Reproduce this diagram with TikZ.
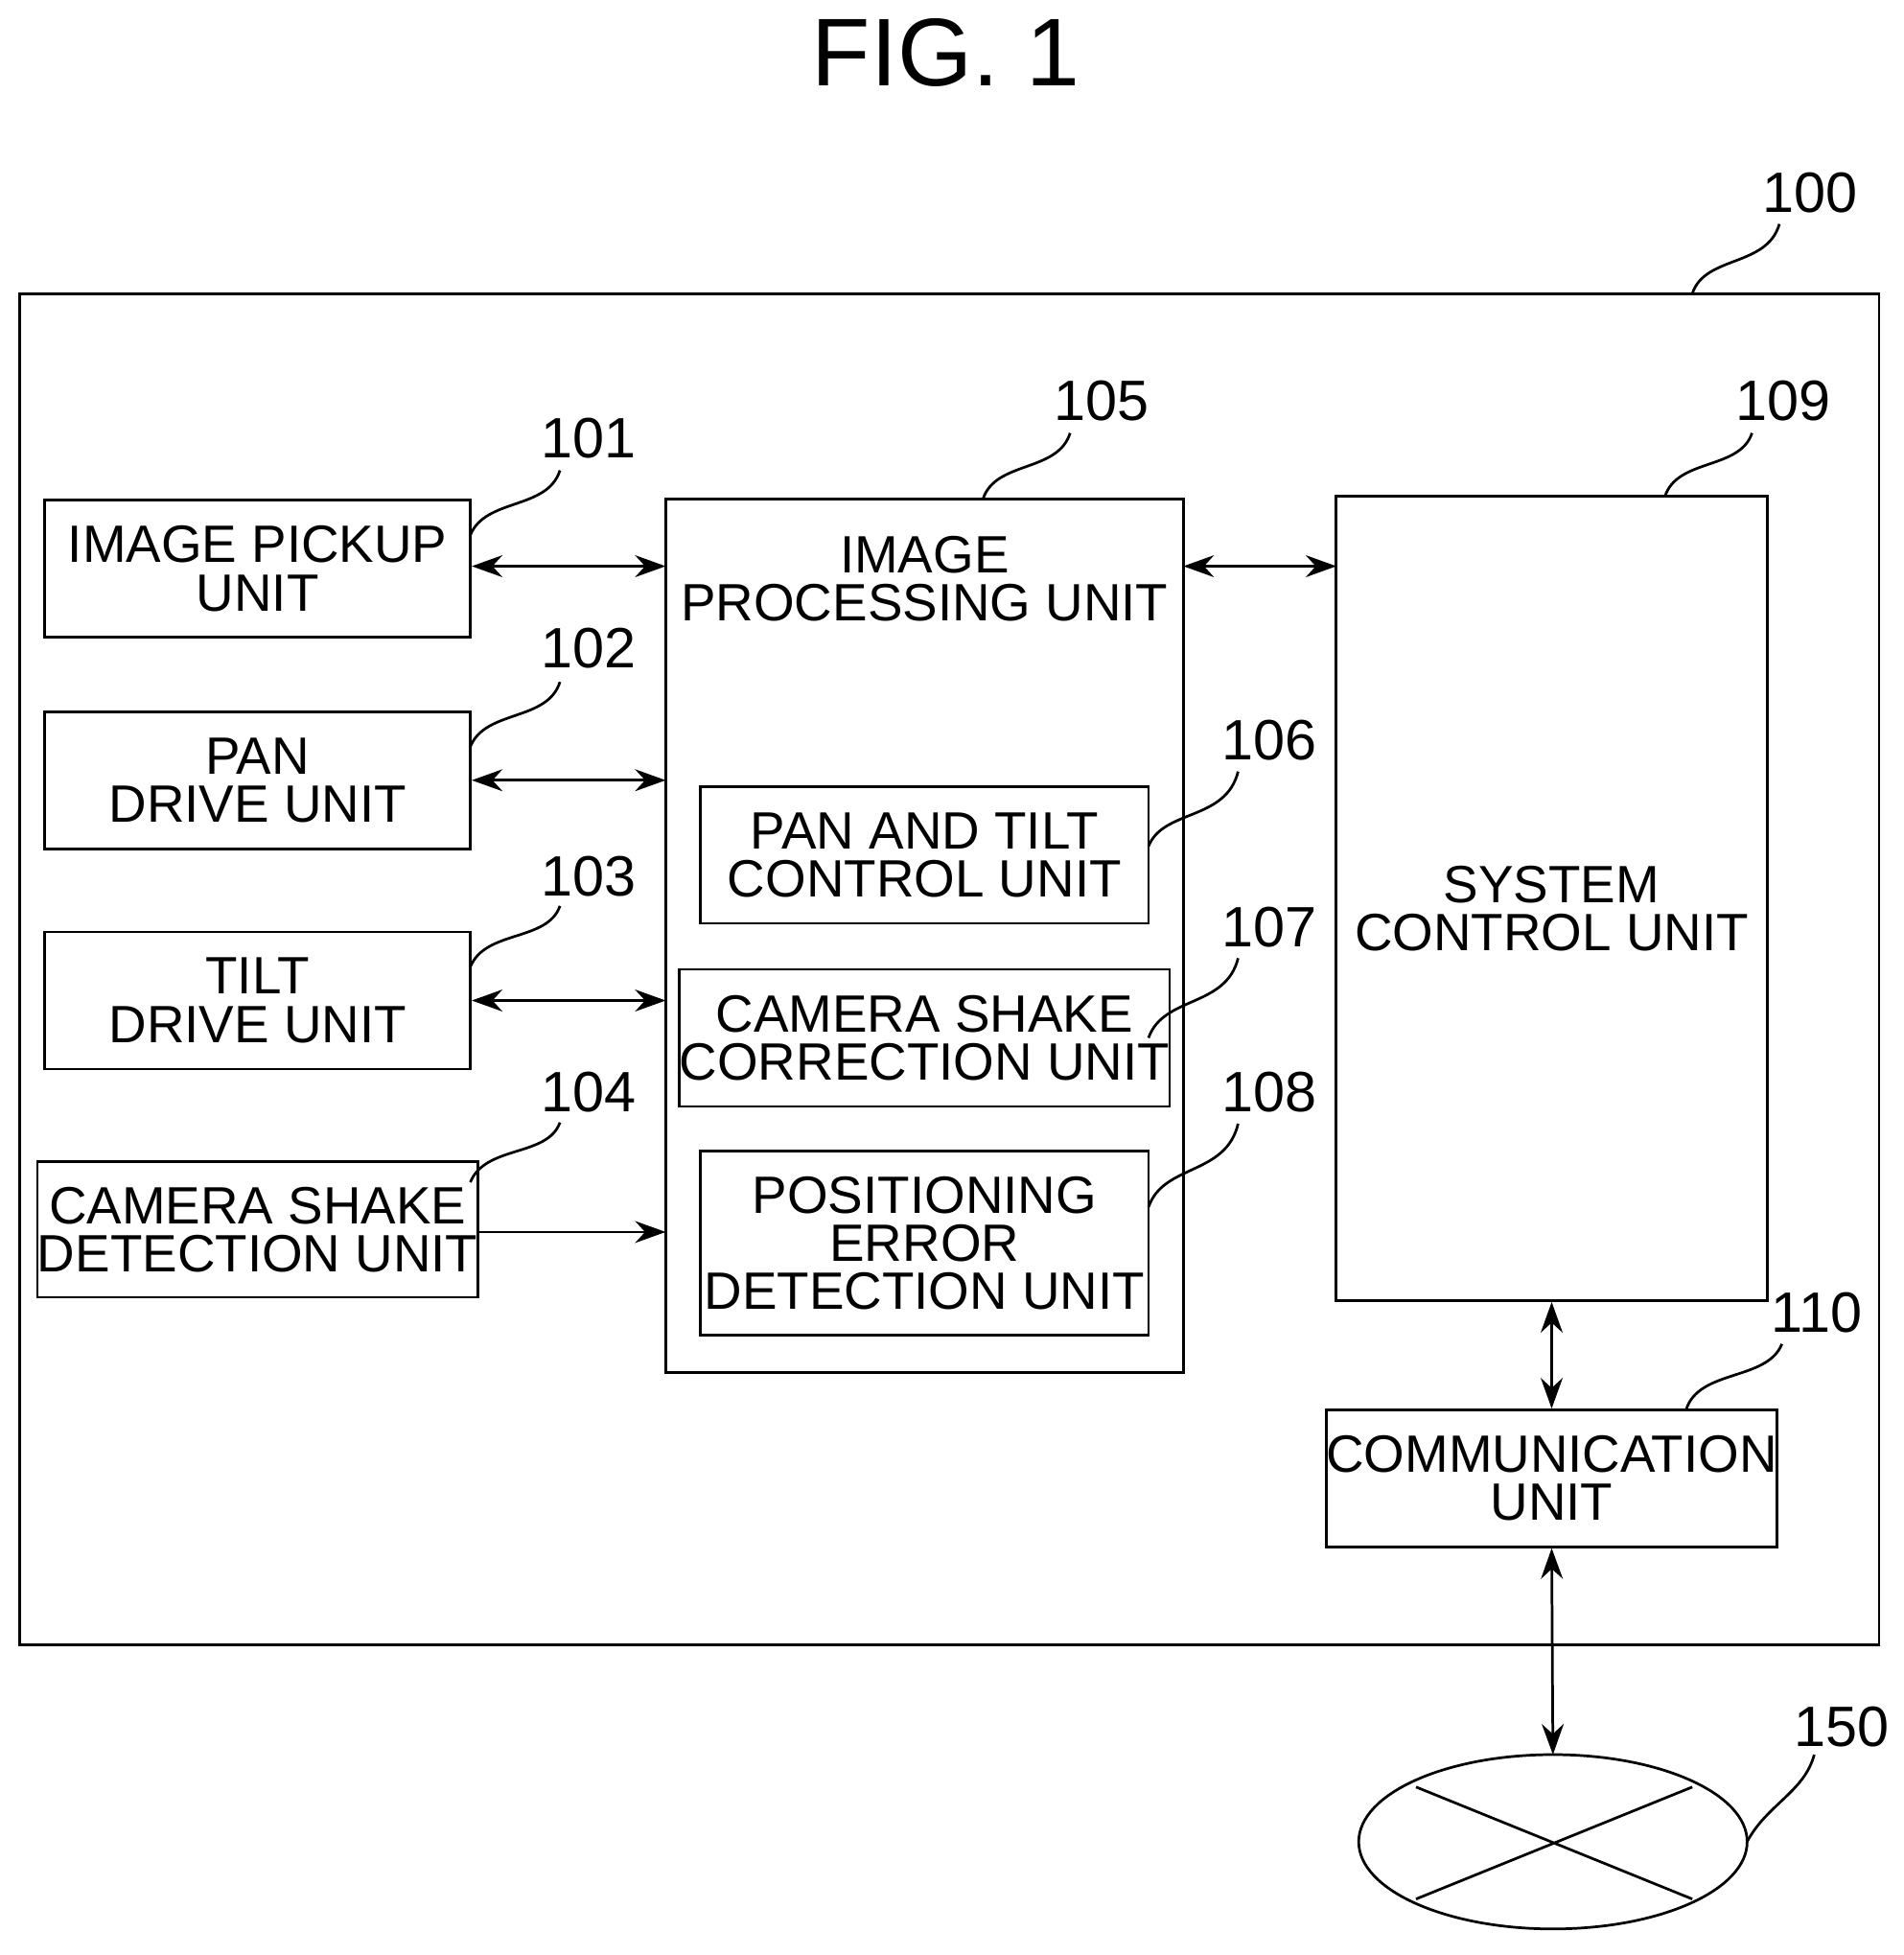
\documentclass[tikz,border=0pt]{standalone}
\usepackage{fontspec}
\setmainfont{Liberation Sans}
\usetikzlibrary{arrows.meta}
\begin{document}
\begin{tikzpicture}[x=0.01cm,y=-0.01cm,
    blk/.style={draw,line width=0.6pt,inner sep=0pt,align=center,
        font=\fontsize{12}{11}\selectfont},
    num/.style={font=\fontsize{13}{13}\selectfont},
    link/.style={line width=0.6pt,{Stealth[length=7pt,width=5pt]}-{Stealth[length=7pt,width=5pt]}},
    feed/.style={line width=0.6pt,-{Stealth[length=7pt,width=5pt]}},
    lead/.style={line width=0.6pt}]
    % page size
    \useasboundingbox (0,0) rectangle (1530,1571);
    \node[font=\fontsize{22}{22}\selectfont] (fig) at (760,42) {FIG. 1};
    % outer frame
    \draw[line width=0.6pt] (16,236) rectangle (1510,1322);
    % left column
    \node[blk,minimum width=3.42cm,minimum height=1.1cm] (pickup) at (207,457) {IMAGE PICKUP\\UNIT};
    \node[blk,minimum width=3.42cm,minimum height=1.1cm] (pan) at (207,627) {PAN\\DRIVE UNIT};
    \node[blk,minimum width=3.42cm,minimum height=1.1cm] (tilt) at (207,804) {TILT\\DRIVE UNIT};
    \node[blk,minimum width=3.42cm,minimum height=1.09cm] (shake) at (207,988) {CAMERA SHAKE\\DETECTION UNIT};
    % image processing unit
    \draw[line width=0.6pt] (535,401) rectangle (951,1103);
    \node[blk,draw=none] (proctxt) at (743,465) {IMAGE\\PROCESSING UNIT};
    \node[blk,minimum width=3.6cm,minimum height=1.1cm] (ptctl) at (743,687) {PAN AND TILT\\CONTROL UNIT};
    \node[blk,minimum width=3.6cm,minimum height=1.1cm] (corr) at (743,834) {CAMERA SHAKE\\CORRECTION UNIT};
    \node[blk,minimum width=3.6cm,minimum height=1.48cm] (poserr) at (743,999) {POSITIONING\\ERROR\\DETECTION UNIT};
    % right column
    \node[blk,minimum width=3.47cm,minimum height=6.46cm] (sys) at (1247,722) {};
    \node[blk,draw=none] (systxt) at (1247,730) {SYSTEM\\CONTROL UNIT};
    \node[blk,minimum width=3.47cm,minimum height=1.1cm] (comm) at (1247,1188) {COMMUNICATION\\UNIT};
    % network
    \draw[line width=0.6pt] (1248,1480) ellipse (1.56cm and 0.7cm);
    \coordinate (net) at (1248,1410);
    \draw[line width=0.6pt] (1138,1436) -- (1360,1526) (1360,1436) -- (1138,1526);
    % connectors
    \coordinate (in1) at (535,455);
    \coordinate (in2) at (535,627);
    \coordinate (in3) at (535,804);
    \coordinate (in4) at (535,990);
    \coordinate (po) at (951,455);
    \coordinate (si) at (1074,455);
    \draw[link] (pickup.east |- in1) -- (in1);
    \draw[link] (pan.east) -- (in2);
    \draw[link] (tilt.east) -- (in3);
    \draw[feed] (shake.east |- in4) -- (in4);
    \draw[link] (po) -- (si);
    \draw[link] (sys.south) -- (comm.north);
    \draw[link] (comm.south) -- (net);
    % reference numerals
    \node[num] (n100) at (1455,155) {100};
    \node[num] (n101) at (473,352) {101};
    \node[num] (n102) at (473,521) {102};
    \node[num] (n103) at (473,704) {103};
    \node[num] (n104) at (473,878) {104};
    \node[num] (n105) at (885,322) {105};
    \node[num] (n106) at (1020,595) {106};
    \node[num] (n107) at (1020,745) {107};
    \node[num] (n108) at (1020,878) {108};
    \node[num] (n109) at (1433,322) {109};
    \node[num] (n110) at (1460,1055) {110};
    \node[num] (n150) at (1480,1388) {150};
    % leader lines
    \draw[lead] (1360,236) .. controls (1370,205) and (1420,215) .. (1430,180);
    \draw[lead] (378,430) .. controls (390,400) and (440,410) .. (450,378);
    \draw[lead] (378,600) .. controls (390,570) and (440,580) .. (450,548);
    \draw[lead] (378,777) .. controls (390,747) and (440,757) .. (450,728);
    \draw[lead] (378,950) .. controls (390,920) and (440,930) .. (450,902);
    \draw[lead] (790,401) .. controls (800,370) and (850,380) .. (860,348);
    \draw[lead] (923,680) .. controls (935,650) and (985,660) .. (995,620);
    \draw[lead] (923,834) .. controls (935,800) and (985,810) .. (995,770);
    \draw[lead] (923,970) .. controls (935,935) and (985,945) .. (995,903);
    \draw[lead] (1338,399) .. controls (1348,368) and (1398,378) .. (1408,348);
    \draw[lead] (1355,1133) .. controls (1365,1100) and (1420,1110) .. (1432,1080);
    \draw[lead] (1404,1480) .. controls (1420,1450) and (1450,1440) .. (1458,1410);
\end{tikzpicture}
\end{document}
